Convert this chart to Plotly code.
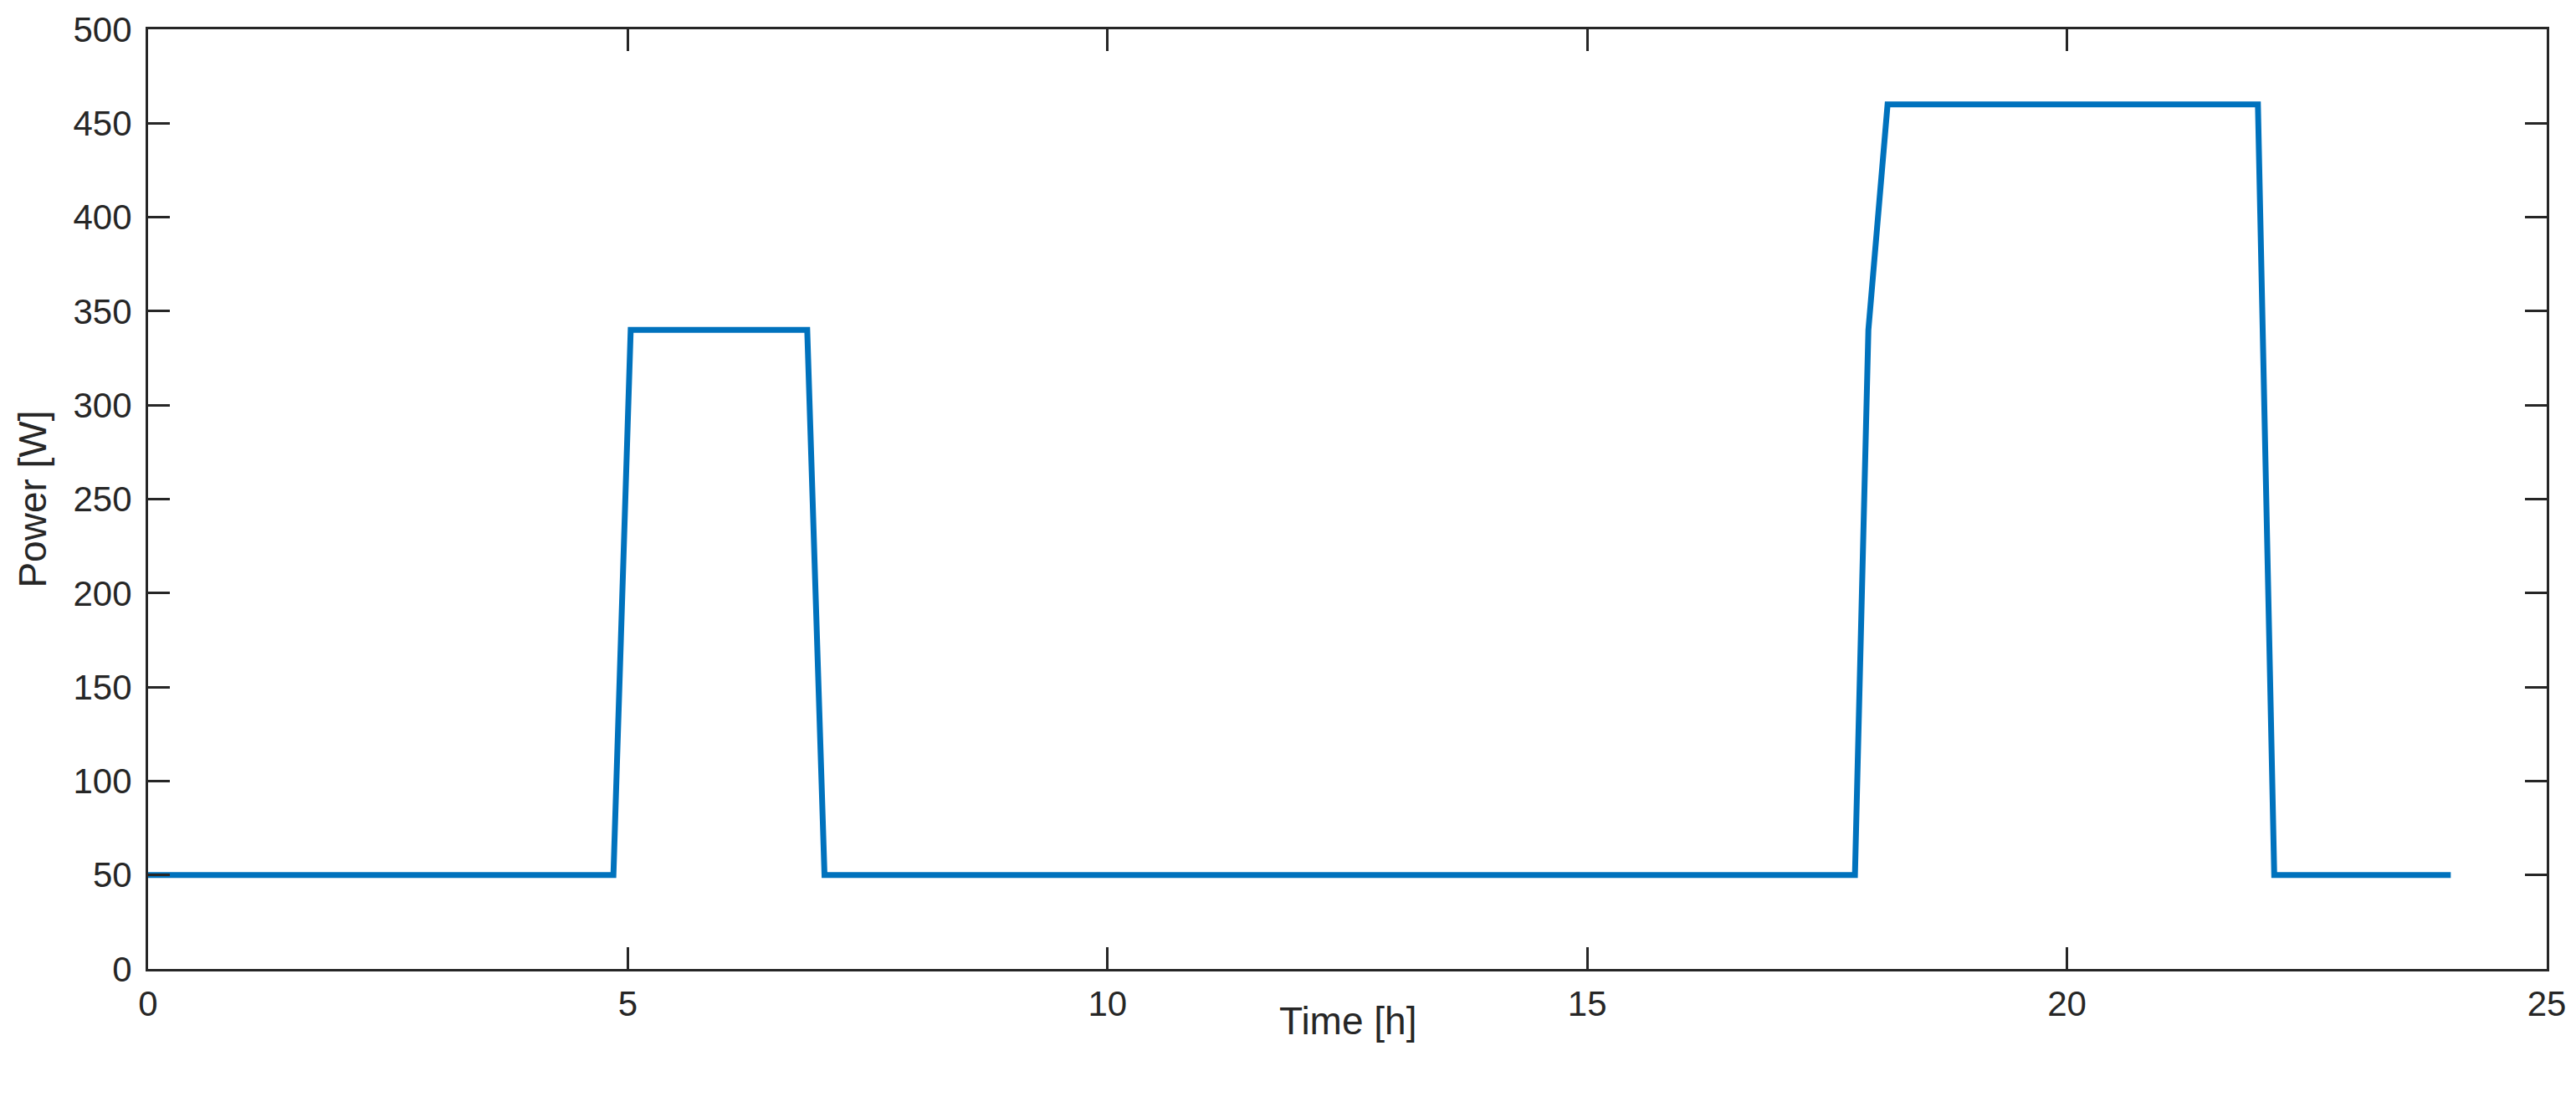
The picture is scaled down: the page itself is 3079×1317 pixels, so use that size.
import plotly.graph_objects as go

# time of day [h] and power draw [W]
time_h = [0, 4.85, 5.03, 6.87, 7.05, 17.79, 17.93, 18.13, 21.99, 22.16, 24]
power_w = [50, 50, 340, 340, 50, 50, 340, 460, 460, 50, 50]

x_ticks = [0, 5, 10, 15, 20, 25]
y_ticks = [0, 50, 100, 150, 200, 250, 300, 350, 400, 450, 500]

axcol = '#262626'
fnt = 'Liberation Sans, Arial, sans-serif'

fig = go.Figure()
fig.add_trace(go.Scatter(x=time_h, y=power_w, mode='lines',
                         line=dict(color='#0072BD', width=7),
                         showlegend=False))

common = dict(showline=True, linecolor=axcol, linewidth=3, mirror='ticks',
              ticks='inside', ticklen=26, tickwidth=3, tickcolor=axcol,
              showgrid=False, zeroline=False, ticklabeloverflow='allow',
              tickfont=dict(family=fnt, size=42, color=axcol))

fig.update_xaxes(range=[0, 25], tickvals=x_ticks, ticklabelstandoff=3, **common)
fig.update_yaxes(range=[0, 500], tickvals=y_ticks,
                 title=dict(text='Power [W]', font=dict(family=fnt, size=46, color=axcol), standoff=18),
                 ticklabelstandoff=8, **common)

# x label sits tight under the tick labels, like matlab does it
fig.add_annotation(text='Time [h]', xref='paper', yref='paper', x=0.5, y=0,
                   xanchor='center', yanchor='middle', yshift=-62, showarrow=False,
                   font=dict(family=fnt, size=46, color=axcol))

fig.update_layout(width=3079, height=1317,
                  margin=dict(l=177, r=35, t=28, b=159),
                  plot_bgcolor='white', paper_bgcolor='white')

# drop the default 8px body margin so the figure fills the window exactly
fig.write_html('out.html', config={'displayModeBar': False},
               post_script="document.body.style.margin='0';document.body.style.overflow='hidden';")
